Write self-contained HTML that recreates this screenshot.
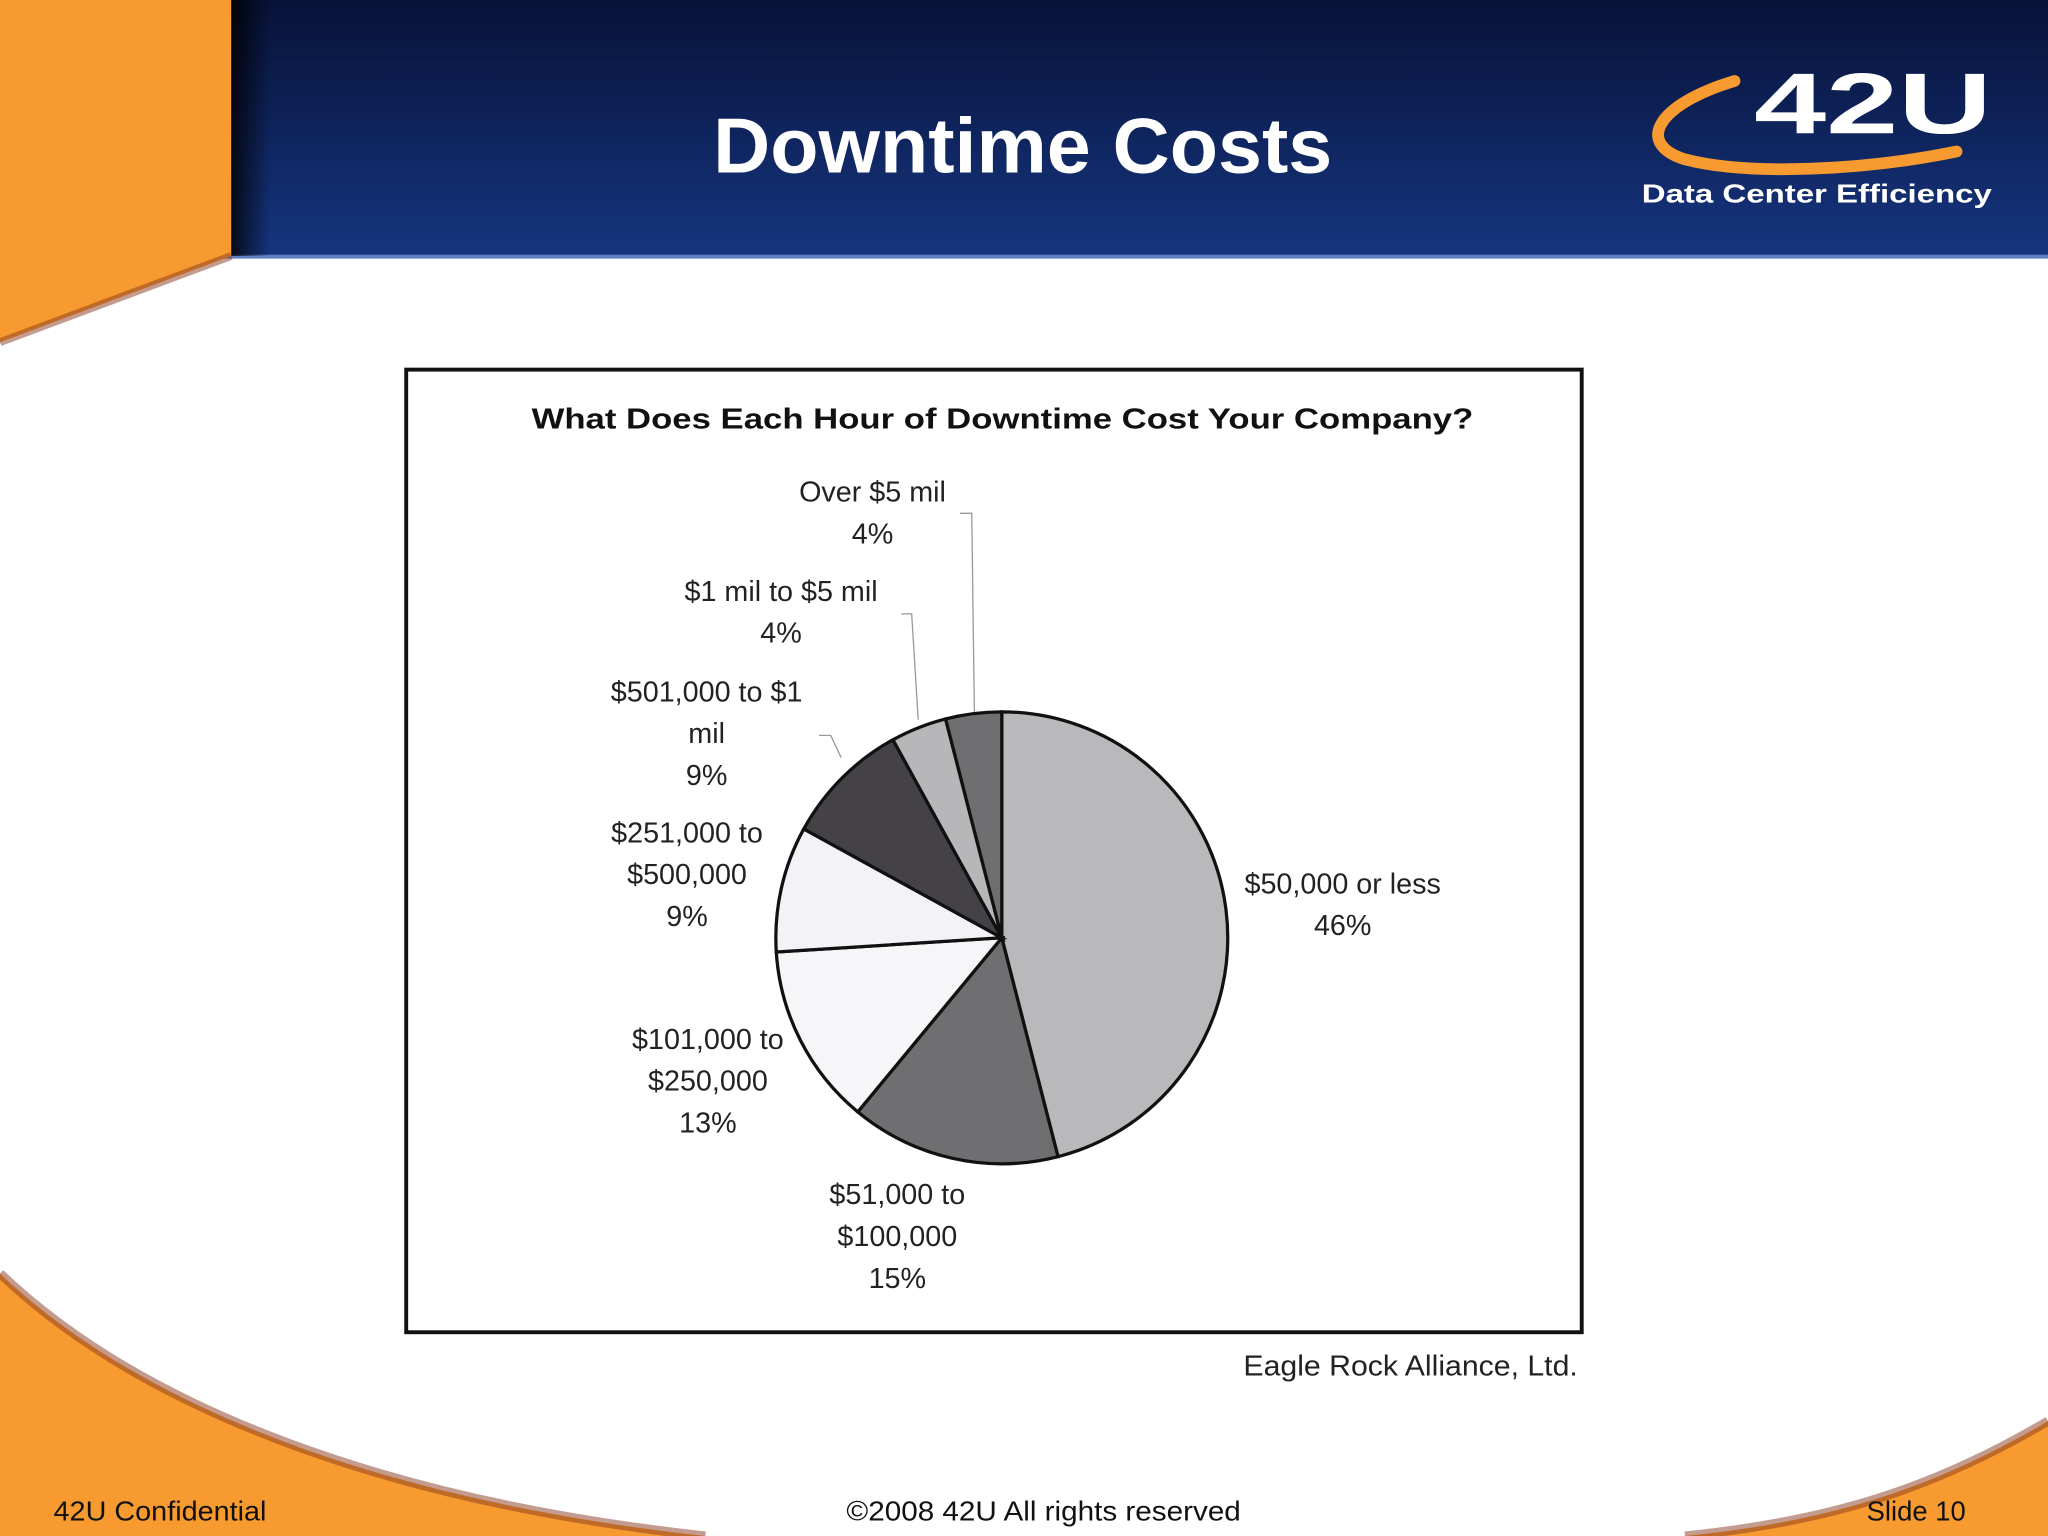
<!DOCTYPE html>
<html><head><meta charset="utf-8"><style>
html,body{margin:0;padding:0;background:#fff;}
svg{display:block;}
text{font-family:"Liberation Sans",sans-serif;}
</style></head><body>
<svg id="slide" width="2048" height="1536" viewBox="0 0 1568 1176" xmlns="http://www.w3.org/2000/svg">
<defs>
<linearGradient id="hdr" x1="0" y1="0" x2="0" y2="1"><stop offset="0" stop-color="#071238"/><stop offset="1" stop-color="#16357f"/></linearGradient>
<linearGradient id="sh" x1="0" y1="0" x2="1" y2="0"><stop offset="0" stop-color="#000" stop-opacity="0.8"/><stop offset="1" stop-color="#000" stop-opacity="0"/></linearGradient>
</defs>
<rect x="0" y="0" width="1568" height="1176" fill="#fff"/>
<rect x="0" y="0" width="1568" height="196" fill="url(#hdr)"/>
<rect x="0" y="195" width="1568" height="3" fill="#5f7fc0"/>
<rect x="177" y="0" width="30" height="196" fill="url(#sh)"/>
<path d="M0,975 C110,1080 300,1150 540,1176 L0,1176 Z" fill="#f79a30"/>
<path d="M0,975 C110,1080 300,1150 540,1176" fill="none" stroke="#8a3a20" stroke-width="7" stroke-opacity="0.5"/>
<path d="M1568,1088 C1480,1140 1400,1165 1290,1176 L1568,1176 Z" fill="#f79a30"/>
<path d="M1568,1088 C1480,1140 1400,1165 1290,1176" fill="none" stroke="#8a3a20" stroke-width="7" stroke-opacity="0.5"/>
<path d="M0,0 L177,0 L177,196 L0,262 Z" fill="#f79a30"/>
<path d="M177,196 L0,262" stroke="#8a3a20" stroke-width="6" stroke-opacity="0.5"/>
<text x="783" y="132" font-size="60" font-weight="bold" fill="#fff" text-anchor="middle" textLength="474" lengthAdjust="spacingAndGlyphs">Downtime Costs</text>
<g>
<path d="M1328,62 C1268,80 1252,110 1290,122 C1340,135 1430,130 1498,116" fill="none" stroke="#f79a30" stroke-width="9" stroke-linecap="round"/>
<text x="1343" y="102" font-size="66" font-weight="bold" fill="#fff" textLength="182" lengthAdjust="spacingAndGlyphs">42U</text>
<text x="1257" y="155" font-size="20" font-weight="bold" fill="#fff" textLength="268" lengthAdjust="spacingAndGlyphs">Data Center Efficiency</text>
</g>
<rect x="311" y="283" width="900" height="737" fill="#fff" stroke="#111" stroke-width="3"/>
<text x="407" y="328" font-size="22" font-weight="bold" fill="#111" textLength="721" lengthAdjust="spacingAndGlyphs">What Does Each Hour of Downtime Cost Your Company?</text>
<g id="pie"></g>
<g id="leaders" fill="none" stroke="#999" stroke-width="1">
<polyline points="735,393 744,393 746,545"/>
<polyline points="690,470 698,470 703,551"/>
<polyline points="627,563 636,563 644,580"/>
</g>
<g id="labels" font-size="22" fill="#222" text-anchor="middle"></g>
<text x="952" y="1053" font-size="22" fill="#222" textLength="256" lengthAdjust="spacingAndGlyphs">Eagle Rock Alliance, Ltd.</text>
<text x="41" y="1164" font-size="21" fill="#111" textLength="163" lengthAdjust="spacingAndGlyphs">42U Confidential</text>
<text x="648" y="1164" font-size="21" fill="#111" textLength="302" lengthAdjust="spacingAndGlyphs">©2008 42U All rights reserved</text>
<text x="1505" y="1164" font-size="21" fill="#111" text-anchor="end">Slide 10</text>
</svg>
<script>
const categories = ["$50,000 or less","$51,000 to $100,000","$101,000 to $250,000","$251,000 to $500,000","$501,000 to $1 mil","$1 mil to $5 mil","Over $5 mil"];
const values = [46, 15, 13, 9, 9, 4, 4];
const sliceColors = ["#b9b8bb","#6f6e71","#f6f5f8","#f3f2f6","#444246","#b7b6b9","#6f6e71"];
const labelLines = [["$50,000 or less","46%"],["$51,000 to","$100,000","15%"],["$101,000 to","$250,000","13%"],["$251,000 to","$500,000","9%"],["$501,000 to $1","mil","9%"],["$1 mil to $5 mil","4%"],["Over $5 mil","4%"]];
const labelAnchors = [[1028,684],[687,922],[542,803],[526,645],[541,537],[598,460],[668,384]];
const NS="http://www.w3.org/2000/svg";
const cx=767, cy=718, r=173;
const total = values.reduce((a,b)=>a+b,0);
function pt(frac){const a=frac*2*Math.PI;return [cx+r*Math.sin(a), cy-r*Math.cos(a)];}
const pie=document.getElementById('pie');
let acc=0;
values.forEach((v,i)=>{
  const s=acc/total, e=(acc+v)/total; acc+=v;
  const p0=pt(s), p1=pt(e), large=(e-s)>0.5?1:0;
  const path=document.createElementNS(NS,'path');
  path.setAttribute('d',`M${cx},${cy} L${p0[0]},${p0[1]} A${r},${r} 0 ${large} 1 ${p1[0]},${p1[1]} Z`);
  path.setAttribute('fill',sliceColors[i]);
  path.setAttribute('stroke','#111');
  path.setAttribute('stroke-width','2.5');
  
  
  pie.appendChild(path);
});
const lg=document.getElementById('labels');
labelLines.forEach((lines,i)=>{
  const t=document.createElementNS(NS,'text');
  t.setAttribute('x',labelAnchors[i][0]);
  t.setAttribute('y',labelAnchors[i][1]);
  
  
  lines.forEach((ln,j)=>{
    const ts=document.createElementNS(NS,'tspan');
    ts.setAttribute('x',labelAnchors[i][0]);
    ts.setAttribute('dy', j===0?0:32);
    ts.textContent = (j===lines.length-1) ? values[i]+'%' : ln;
    t.appendChild(ts);
  });
  lg.appendChild(t);
});
</script>
</body></html>
